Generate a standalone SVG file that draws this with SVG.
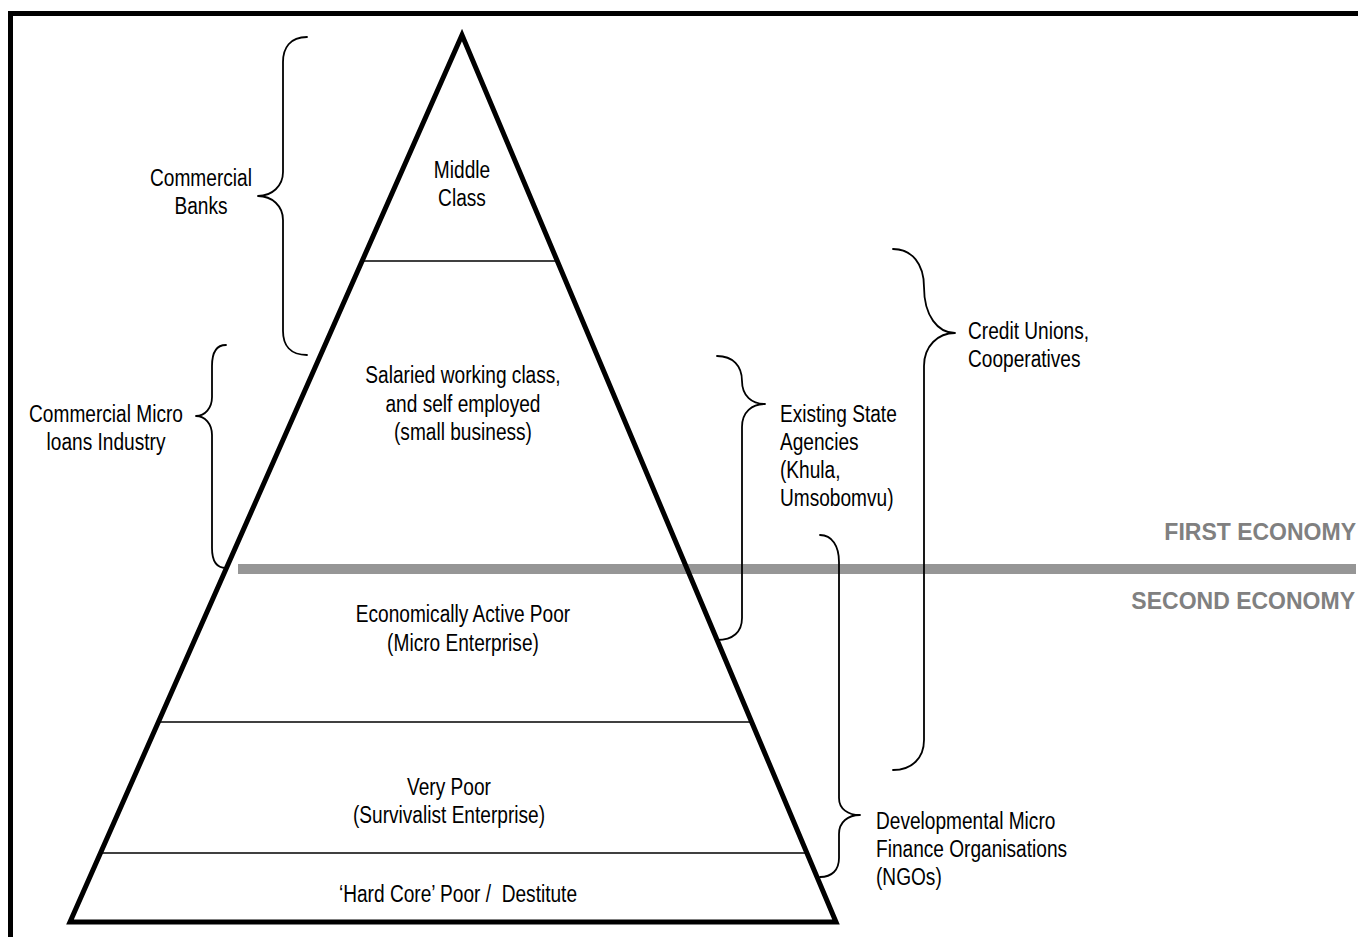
<svg xmlns="http://www.w3.org/2000/svg" width="1358" height="937" viewBox="0 0 1358 937">
<style>
.t{font-family:"Liberation Sans",Arial,sans-serif;font-size:23.3px;fill:#000}
.c{text-anchor:middle}
.g{font-family:"Liberation Sans",Arial,sans-serif;font-size:23px;font-weight:bold;fill:#808080;text-anchor:end}
.br{fill:none;stroke:#000;stroke-width:1.8;stroke-linecap:round;stroke-linejoin:round}
.thin{stroke:#000;stroke-width:1.5}
</style>
<rect width="1358" height="937" fill="#fff"/>
<rect x="10.5" y="13.5" width="1400" height="1000" fill="none" stroke="#000" stroke-width="5"/>
<g id="divider">
<line x1="238" y1="569" x2="1356" y2="569" stroke="#969696" stroke-width="10"/>
<text class="g" x="1356" y="540">FIRST ECONOMY</text>
<text class="g" x="1355" y="609">SECOND ECONOMY</text>
</g>
<g id="pyramid">
<polygon points="462,35 70,922 836,922" fill="none" stroke="#000" stroke-width="5" stroke-linejoin="miter"/>
<line class="thin" x1="362" y1="261" x2="557" y2="261"/>
<line class="thin" x1="158" y1="722" x2="752" y2="722"/>
<line class="thin" x1="100" y1="853" x2="807" y2="853"/>
</g>
<g id="middle-class" transform="matrix(0.82 0 0 1 83.16 0)"><text class="t c" x="462" y="178">Middle</text><text class="t c" x="462" y="206">Class</text></g>
<g id="salaried" transform="matrix(0.82 0 0 1 83.34 0)"><text class="t c" x="463" y="383">Salaried working class,</text><text class="t c" x="463" y="412">and self employed</text><text class="t c" x="463" y="440">(small business)</text></g>
<g id="active-poor" transform="matrix(0.82 0 0 1 83.34 0)"><text class="t c" x="463" y="622">Economically Active Poor</text><text class="t c" x="463" y="651">(Micro Enterprise)</text></g>
<g id="very-poor" transform="matrix(0.82 0 0 1 80.82 0)"><text class="t c" x="449" y="795">Very Poor</text><text class="t c" x="449" y="823">(Survivalist Enterprise)</text></g>
<g id="hard-core" transform="matrix(0.82 0 0 1 82.44 0)"><text class="t c" x="458" y="902" xml:space="preserve">‘Hard Core’ Poor /  Destitute</text></g>
<g id="connectors">
<path class="br" d="M307,37 C290,37 283,48 283,62 L283,172 C283,186 272,196 258,196 C272,196 283,206 283,220 L283,331 C283,345 290,355 307,355"/>
<path class="br" d="M226,345 C216,345 212,354 212,366 L212,397 C212,408 205,416 196,416 C205,416 212,424 212,435 L212,548 C212,560 216,568 226,568"/>
<path class="br" d="M717,356 C733,356 742,366 742,381 C742,396 752,404 765,404 C752,404 742,412 742,427 L742,618 C742,632 733,640 717,640"/>
<path class="br" d="M893,249 C912,249 924,264 924,287 C924,316 938,333 955,333 C938,333 924,346 924,366 L924,740 C924,758 912,770 893,770"/>
<path class="br" d="M820,535 C832,535 839,546 839,562 L839,798 C839,809 848,815 860,815 C848,815 839,822 839,834 L839,858 C839,870 832,877 820,877"/>
</g>
<g id="commercial-banks" transform="matrix(0.82 0 0 1 36.18 0)"><text class="t c" x="201" y="186">Commercial</text><text class="t c" x="201" y="214">Banks</text></g>
<g id="micro-loans" transform="matrix(0.82 0 0 1 19.08 0)"><text class="t c" x="106" y="422">Commercial Micro</text><text class="t c" x="106" y="450">loans Industry</text></g>
<g id="state-agencies" transform="matrix(0.82 0 0 1 140.4 0)"><text class="t" x="780" y="422">Existing State</text><text class="t" x="780" y="450">Agencies</text><text class="t" x="780" y="478">(Khula,</text><text class="t" x="780" y="506">Umsobomvu)</text></g>
<g id="credit-unions" transform="matrix(0.82 0 0 1 174.24 0)"><text class="t" x="968" y="339">Credit Unions,</text><text class="t" x="968" y="367">Cooperatives</text></g>
<g id="dev-mfo" transform="matrix(0.82 0 0 1 157.68 0)"><text class="t" x="876" y="829">Developmental Micro</text><text class="t" x="876" y="857">Finance Organisations</text><text class="t" x="876" y="885">(NGOs)</text></g>
</svg>
